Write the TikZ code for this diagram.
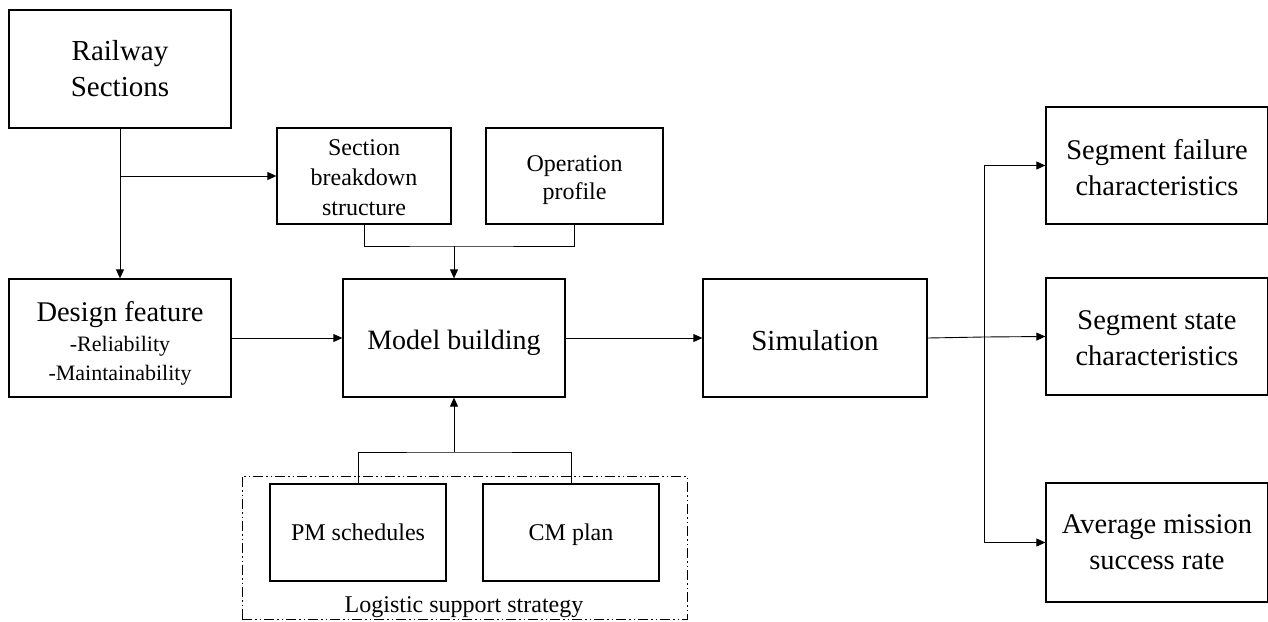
\documentclass[tikz,border=0pt]{standalone}
\usepackage{fontspec}
\setmainfont{Liberation Serif}
\usetikzlibrary{arrows.meta}
\tikzset{
  box/.style={draw, line width=1.3pt, inner sep=0pt, align=center, anchor=center},
  conn/.style={line width=0.9pt},
  arr/.style={conn, -{Triangle[length=9pt,width=8pt]}},
  bigtxt/.style={font=\fontsize{29}{36}\selectfont},
  midtxt/.style={font=\fontsize{24}{30}\selectfont},
  segtxt/.style={font=\fontsize{28.5}{36}\selectfont},
}
\begin{document}
\begin{tikzpicture}[x=1pt,y=-1pt]
\useasboundingbox (0,0) rectangle (1268,621);
% nodes
\node[box,bigtxt,minimum width=222pt,minimum height=118pt] (rail) at (120,69) {Railway\\Sections};
\node[box,midtxt,minimum width=174pt,minimum height=96pt] (sec) at (364,176) {\rule{0pt}{20pt}Section\\breakdown\\structure};
\node[box,font=\fontsize{24}{28}\selectfont,minimum width=177pt,minimum height=96pt] (op) at (574.5,176) {\rule{0pt}{23.3pt}Operation\\profile};
\node[box,font=\fontsize{22}{29}\selectfont,minimum width=222pt,minimum height=118pt] (design) at (120,338)
  {{\fontsize{28.5}{34}\selectfont\rule{0pt}{30pt}Design feature}\\[1pt]
   -Reliability\\
   -Maintainability};
\node[box,font=\fontsize{28}{34}\selectfont,text height=22pt,text depth=0pt,minimum width=222pt,minimum height=118pt] (model) at (454,338) {Model building};
\node[box,bigtxt,text height=24pt,text depth=0pt,minimum width=224pt,minimum height=118pt] (sim) at (815,338) {Simulation};
\node[box,segtxt,minimum width=222pt,minimum height=117pt] (seg1) at (1157,165.5) {\rule{0pt}{23.6pt}Segment failure\\characteristics};
\node[box,segtxt,minimum width=222pt,minimum height=117pt] (seg2) at (1157,336.5) {\rule{0pt}{22pt}Segment state\\characteristics};
\node[box,segtxt,minimum width=222pt,minimum height=119pt] (seg3) at (1157,542.5) {Average mission\\success rate};
\node[box,midtxt,minimum width=176pt,minimum height=97pt] (pm) at (358,532.5) {PM schedules};
\node[box,midtxt,text height=16.6pt,text depth=0pt,minimum width=176pt,minimum height=97pt] (cm) at (571,532.5) {CM plan};
% group frame
\node[draw,line width=1pt,dash pattern=on 10pt off 3pt on 1.5pt off 3pt on 1.5pt off 3pt,
      minimum width=445pt,minimum height=143pt,inner sep=0pt] (grp) at (464.5,547.5) {};
\node[midtxt,anchor=base,inner sep=0pt] (lss) at (464,612) {Logistic support strategy};
% junctions
\coordinate (jr) at (120,176);
\coordinate (jt) at (454,246);
\coordinate (jb) at (454,452);
\coordinate (js) at (984,337);
% connectors
\draw[arr] (rail.south) -- (design.north);
\draw[arr] (jr) -- (sec.west);
\draw[conn] (sec.south) |- (jt) -| (op.south);
\draw[arr] (jt) -- (model.north);
\draw[conn] (pm.north) |- (jb) -| (cm.north);
\draw[arr] (jb) -- (model.south);
\draw[arr] (design.east) -- (model.west);
\draw[arr] (model.east) -- (sim.west);
\draw[conn] (sim.east) -- (js);
\draw[arr] (js) -- (seg2.west);
\draw[arr] (js) |- (seg1.west);
\draw[arr] (js) |- (seg3.west);
\end{tikzpicture}
\end{document}
